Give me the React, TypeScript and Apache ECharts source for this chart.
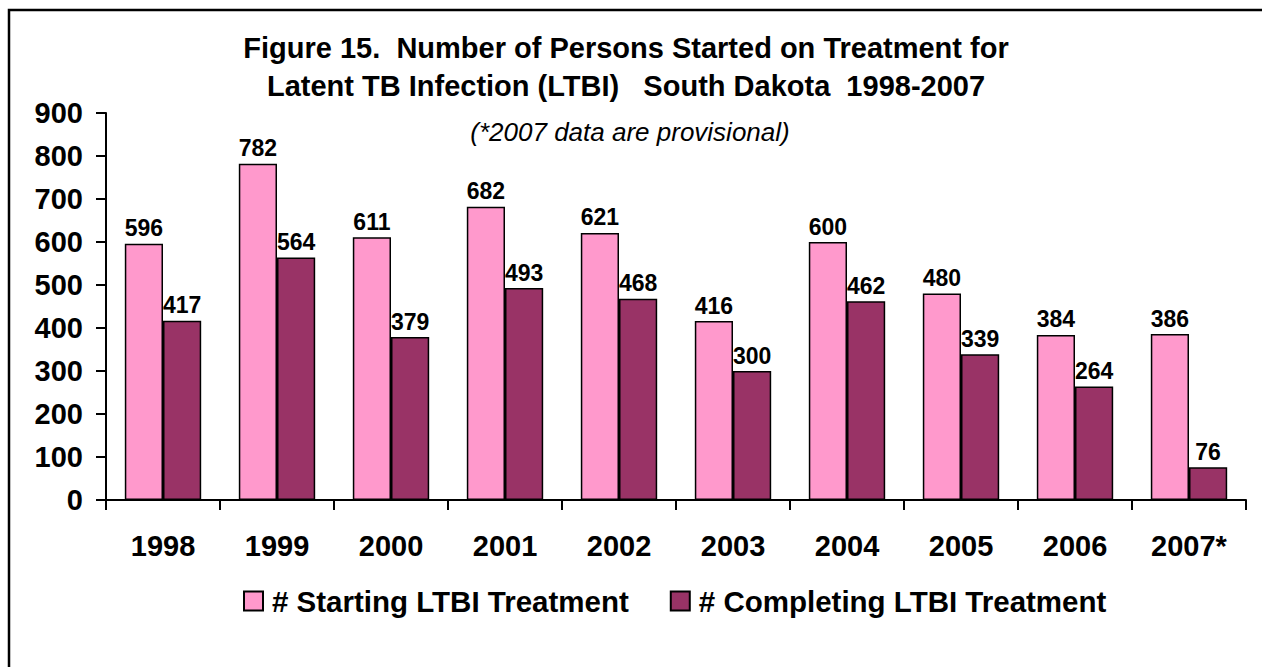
import React, { useEffect, useRef } from "react";
import * as echarts from "echarts";

const categories = ["1998", "1999", "2000", "2001", "2002", "2003", "2004", "2005", "2006", "2007*"];
const starting = [596, 782, 611, 682, 621, 416, 600, 480, 384, 386];
const completing = [417, 564, 379, 493, 468, 300, 462, 339, 264, 76];
const seriesNames = ["# Starting LTBI Treatment", "# Completing LTBI Treatment"];
const yTicks = { min: 0, max: 900, interval: 100 };

const FONT = "Liberation Sans, Arial, Helvetica, sans-serif";

export default function App() {
  const ref = useRef<HTMLDivElement>(null);
  useEffect(() => {
    document.body.style.margin = "0";
    const chart = echarts.init(ref.current!, null, { renderer: "svg" });
    const labelStyle = {
      show: true,
      position: "top" as const,
      distance: 4,
      color: "#000",
      fontFamily: FONT,
      fontWeight: "bold" as const,
      fontSize: 23,
    };
    chart.setOption({
      animation: false,
      backgroundColor: "#fff",
      title: [
        {
          text: "Figure 15.  Number of Persons Started on Treatment for\nLatent TB Infection (LTBI)   South Dakota  1998-2007",
          left: 626,
          top: 29,
          padding: 0,
          textAlign: "center",
          textStyle: {
            fontFamily: FONT,
            fontWeight: "bold",
            fontSize: 29,
            lineHeight: 38,
            color: "#000",
          },
        },
        {
          text: "(*2007 data are provisional)",
          left: 630,
          top: 119,
          padding: 0,
          textAlign: "center",
          textStyle: {
            fontFamily: FONT,
            fontStyle: "italic",
            fontWeight: "normal",
            fontSize: 26,
            color: "#000",
          },
        },
      ],
      graphic: [
        {
          type: "rect",
          shape: { x: 9, y: 10, width: 1400, height: 800 },
          style: { fill: "none", stroke: "#000", lineWidth: 2.5 },
          silent: true,
        },
      ],
      legend: {
        top: 586,
        left: 243,
        itemWidth: 19,
        itemHeight: 19,
        itemGap: 41,
        padding: 0,
        icon: "rect",
        textStyle: {
          fontFamily: FONT,
          fontWeight: "bold",
          fontSize: 29.5,
          color: "#000",
          padding: [0, 0, 0, 4],
        },
        data: seriesNames,
      },
      grid: { left: 106, right: 16, top: 113, bottom: 167, containLabel: false },
      xAxis: {
        type: "category",
        data: categories,
        axisLine: { lineStyle: { color: "#000", width: 2 } },
        axisTick: { show: true, length: 10, lineStyle: { color: "#000", width: 2 } },
        axisLabel: {
          color: "#000",
          fontFamily: FONT,
          fontWeight: "bold",
          fontSize: 29,
          margin: 31,
          interval: 0,
        },
      },
      yAxis: {
        type: "value",
        min: yTicks.min,
        max: yTicks.max,
        interval: yTicks.interval,
        splitLine: { show: false },
        axisLine: { show: true, lineStyle: { color: "#000", width: 2 } },
        axisTick: { show: true, length: 10, lineStyle: { color: "#000", width: 2 } },
        axisLabel: {
          color: "#000",
          fontFamily: FONT,
          fontWeight: "bold",
          fontSize: 29,
          margin: 23,
        },
      },
      series: [
        {
          name: seriesNames[0],
          type: "bar",
          data: starting,
          barGap: "0%",
          barCategoryGap: "33%",
          itemStyle: { color: "#FF99CC", borderColor: "#000", borderWidth: 1.5 },
          label: labelStyle,
        },
        {
          name: seriesNames[1],
          type: "bar",
          data: completing,
          barGap: "0%",
          barCategoryGap: "33%",
          itemStyle: { color: "#993366", borderColor: "#000", borderWidth: 1.5 },
          label: labelStyle,
        },
      ],
    });
    return () => chart.dispose();
  }, []);
  return <div ref={ref} style={{ width: 1262, height: 667 }} />;
}
